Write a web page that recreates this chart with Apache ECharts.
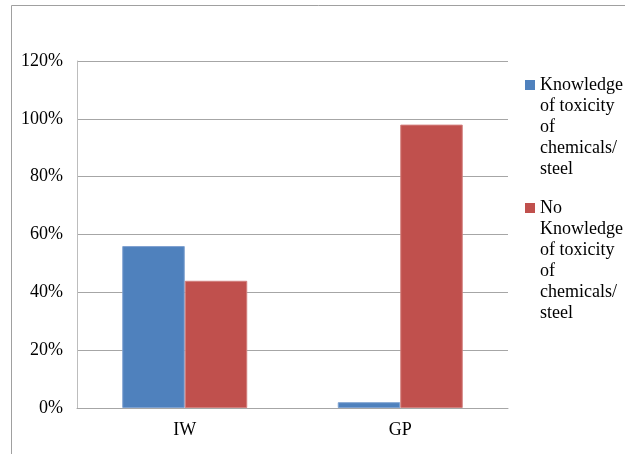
<!DOCTYPE html>
<html>
<head>
<meta charset="utf-8">
<script src="https://cdn.jsdelivr.net/npm/echarts@6/dist/echarts.min.js"></script>
<style>
  html, body { margin: 0; padding: 0; background: #fff; }
  #chart { width: 625px; height: 454px; }
</style>
</head>
<body>
<div id="chart"></div>
<script>
// Survey groups on the category axis
const categories = ['IW', 'GP'];
// Share of respondents (%) for each group
const knowledgeValues = [56, 2];
const noKnowledgeValues = [44, 98];
// Value axis ticks (%)
const yTicks = [0, 20, 40, 60, 80, 100, 120];

const seriesNames = [
  'Knowledge\nof toxicity\nof\nchemicals/\nsteel',
  'No\nKnowledge\nof toxicity\nof\nchemicals/\nsteel'
];

const FONT = 'Liberation Serif';
const LINE_H = 21;
const serifText = { fontFamily: FONT, fontSize: 18, lineHeight: LINE_H, color: '#000' };

// Legend entry: square marker aligned with the first text line
function legendBlock(name, top) {
  const lines = name.split('\n');
  const h = lines.length * LINE_H - 11;
  return {
    data: [name],
    orient: 'vertical',
    left: 525,
    top: top,
    padding: 0,
    itemWidth: 10,
    itemHeight: h,
    itemGap: 0,
    icon: 'path://M0,0h10v10h-10z M0,' + h + 'L10,' + h,
    itemStyle: { borderWidth: 0 },
    selectedMode: false,
    formatter: (n) => n.split('\n').map((l) => '{t|' + l + '}').join('\n'),
    textStyle: Object.assign({}, serifText, { rich: { t: serifText } })
  };
}

const chart = echarts.init(document.getElementById('chart'), null, { renderer: 'canvas' });

chart.setOption({
  backgroundColor: '#fff',
  animation: false,
  textStyle: { fontFamily: FONT },
  graphic: [{
    type: 'rect',
    shape: { x: 11.5, y: 5.5, width: 700, height: 600 },
    style: { fill: 'none', stroke: '#a0a0a0', lineWidth: 1 },
    silent: true
  }],
  legend: [
    legendBlock(seriesNames[0], 74.5),
    legendBlock(seriesNames[1], 197.5)
  ],
  grid: { left: 77, right: 117, top: 61, bottom: 46, containLabel: false },
  xAxis: {
    type: 'category',
    data: categories,
    axisLine: { show: true, lineStyle: { color: '#a6a6a6', width: 1 } },
    axisTick: { show: false },
    axisLabel: { fontFamily: FONT, fontSize: 18, color: '#000', margin: 13 },
    splitLine: { show: false }
  },
  yAxis: {
    type: 'value',
    min: yTicks[0],
    max: yTicks[yTicks.length - 1],
    interval: yTicks[1] - yTicks[0],
    axisLine: { show: true, lineStyle: { color: '#bdbdbd', width: 1 } },
    axisTick: { show: false },
    axisLabel: { fontFamily: FONT, fontSize: 18, color: '#000', margin: 14, formatter: '{value}%' },
    splitLine: { show: true, lineStyle: { color: '#a6a6a6', width: 1 } }
  },
  series: [
    {
      name: seriesNames[0],
      type: 'bar',
      data: knowledgeValues,
      barGap: '0%',
      barCategoryGap: '42%',
      itemStyle: { color: '#4F81BD', borderColor: '#7EA1D0', borderWidth: 1 }
    },
    {
      name: seriesNames[1],
      type: 'bar',
      data: noKnowledgeValues,
      barGap: '0%',
      barCategoryGap: '42%',
      itemStyle: { color: '#C0504D', borderColor: '#D27F7D', borderWidth: 1 }
    }
  ]
});
</script>
</body>
</html>
